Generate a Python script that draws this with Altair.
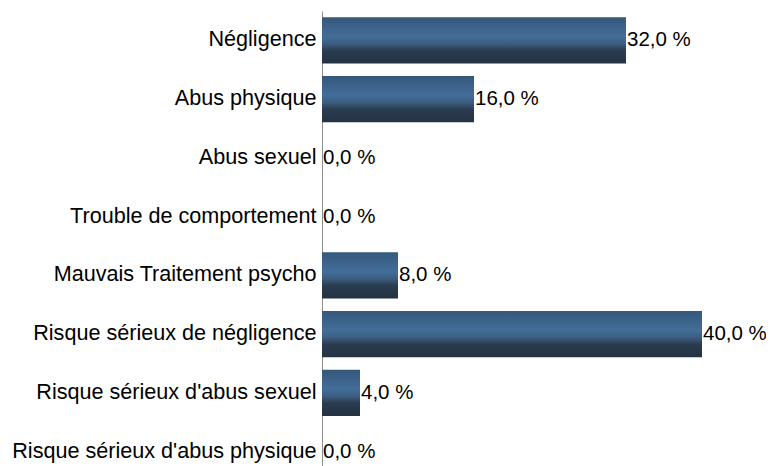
import altair as alt
import pandas as pd

categories = [
    "Négligence",
    "Abus physique",
    "Abus sexuel",
    "Trouble de comportement",
    "Mauvais Traitement psycho",
    "Risque sérieux de négligence",
    "Risque sérieux d'abus sexuel",
    "Risque sérieux d'abus physique",
]
values = [32.0, 16.0, 0.0, 0.0, 8.0, 40.0, 4.0, 0.0]

labels = [f"{v:.1f}".replace(".", ",") + " %" for v in values]
df = pd.DataFrame({"cat": categories, "val": values, "lab": labels})

FONT = "Liberation Sans"
FS = 21.6

grad = alt.Gradient(
    gradient="linear",
    x1=0, x2=0, y1=0, y2=1,
    stops=[
        alt.GradientStop(color="#35577c", offset=0.0),
        alt.GradientStop(color="#436e98", offset=0.42),
        alt.GradientStop(color="#3b5c7e", offset=0.58),
        alt.GradientStop(color="#2a3c50", offset=0.72),
        alt.GradientStop(color="#243242", offset=1.0),
    ],
)

y_enc = alt.Y(
    "cat:N",
    sort=categories,
    title=None,
    scale=alt.Scale(range=[0, 470], paddingInner=0.21, paddingOuter=0.105),
    axis=alt.Axis(
        labelFontSize=FS,
        labelFont=FONT,
        labelColor="#000000",
        labelPadding=6,
        labelLimit=400,
        ticks=False,
        domainColor="#8c8c8c",
        domainWidth=1,
        grid=False,
    ),
)
x_enc = alt.X("val:Q", scale=alt.Scale(domain=[0, 40]), axis=None)

base = alt.Chart(df)
bars = base.mark_bar(color=grad).encode(x=x_enc, y=y_enc)
text = base.mark_text(
    align="left", baseline="middle", dx=1, fontSize=20.5, font=FONT, color="#000000"
).encode(x=x_enc, y=y_enc, text="lab:N")

chart = (
    alt.layer(bars, text)
    .properties(
        width=380,
        height=455,
        autosize=alt.AutoSizeParams(type="none"),
        padding={"left": 314, "top": 3, "right": 64, "bottom": 0},
        view=alt.ViewBackground(stroke="#ffffff", strokeWidth=0, strokeOpacity=0),
    )
    .configure_view(strokeOpacity=0, strokeWidth=0)
    .configure(background="#ffffff")
)

chart.save("out.html", embed_options={"renderer": "svg", "actions": False})
